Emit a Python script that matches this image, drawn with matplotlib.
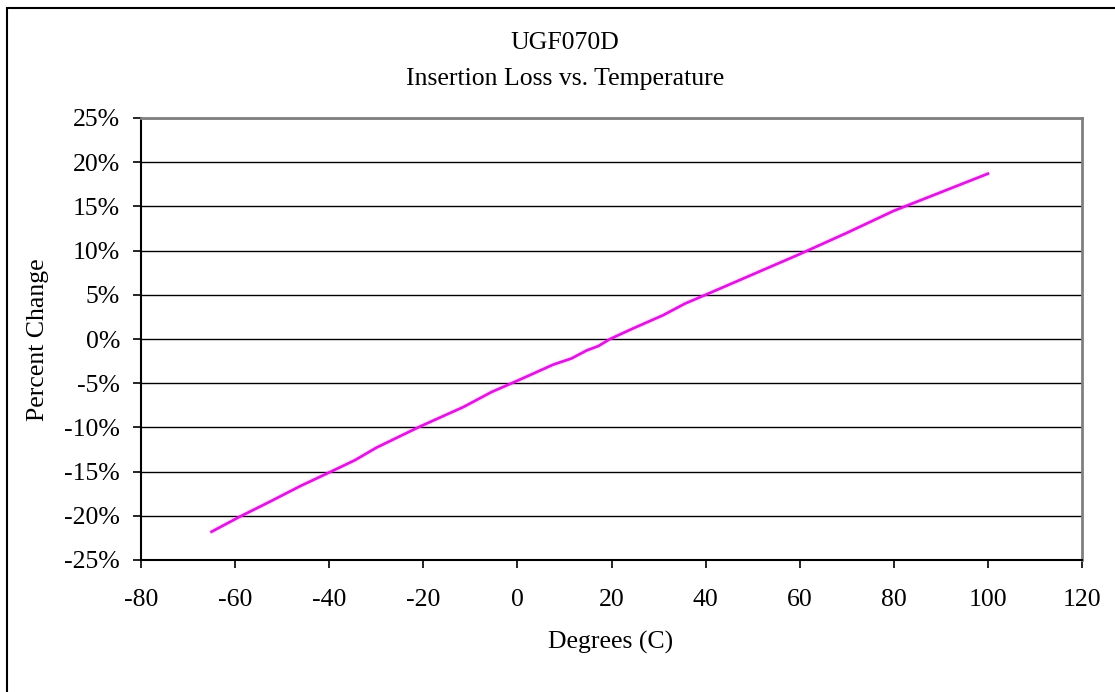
import matplotlib.pyplot as plt
from matplotlib.patches import Rectangle
from matplotlib.ticker import FuncFormatter

# donnees
temperature = [-65, -59, -52.6, -46, -40, -34.5, -30, -20.7, -11.5, -5.5, 0.5, 7.6,
               11.5, 14.7, 17.2, 19.7, 24.6, 31, 35.6, 40, 50, 60, 70, 80, 90, 100]
percent_change = [-21.8, -20.1, -18.4, -16.6, -15.1, -13.7, -12.3, -9.9, -7.7, -6.0, -4.6, -2.9,
                  -2.2, -1.3, -0.8, 0.0, 1.2, 2.7, 4.0, 5.0, 7.3, 9.6, 12.0, 14.5, 16.6, 18.7]
x_ticks = [-80, -60, -40, -20, 0, 20, 40, 60, 80, 100, 120]
y_ticks = [-25, -20, -15, -10, -5, 0, 5, 10, 15, 20, 25]

W, H = 1115, 692
FS = 18.5
plt.rcParams['font.family'] = ['Liberation Serif', 'DejaVu Serif']
plt.rcParams['axes.unicode_minus'] = False
fig = plt.figure(figsize=(W / 100, H / 100), dpi=100)

# cadre exterieur (style Excel)
fig.patches.append(Rectangle((7 / W, -0.1), 1.2, 1 - 8 / H + 0.1, transform=fig.transFigure,
                             fill=False, edgecolor='black', linewidth=1.5))

ax = fig.add_axes([141 / W, 1 - 560 / H, (1082 - 141) / W, (560 - 118) / H])
ax.plot(temperature, percent_change, color='#FF00FF', linewidth=2.0)

ax.set_xlim(-80, 120)
ax.set_ylim(-25, 25)
ax.set_xticks(x_ticks)
ax.set_yticks(y_ticks)
ax.xaxis.set_major_formatter(FuncFormatter(lambda v, p: f'{v:.0f}'))
ax.yaxis.set_major_formatter(FuncFormatter(lambda v, p: f'{v:.0f}%'))
ax.grid(axis='y', color='black', linewidth=1.0)
ax.set_axisbelow(True)

for s in ['top', 'right']:
    ax.spines[s].set_color('#808080')
    ax.spines[s].set_linewidth(2)
for s in ['left', 'bottom']:
    ax.spines[s].set_color('black')
    ax.spines[s].set_linewidth(1.5)

ax.tick_params(axis='both', direction='out', length=6, width=1.2, labelsize=FS, colors='black')
ax.tick_params(axis='y', pad=9)
ax.tick_params(axis='x', pad=15)

fig.text(565 / W, 1 - 43 / H, 'UGF070D', ha='center', va='center', fontsize=FS)
fig.text(565 / W, 1 - 79 / H, 'Insertion Loss vs. Temperature', ha='center', va='center', fontsize=FS)
fig.text(38 / W, 1 - 340 / H, 'Percent Change', ha='center', va='center', rotation=90, fontsize=FS)
fig.text(611 / W, 1 - 642 / H, 'Degrees (C)', ha='center', va='center', fontsize=FS)

fig.savefig('out.png', dpi=100)
